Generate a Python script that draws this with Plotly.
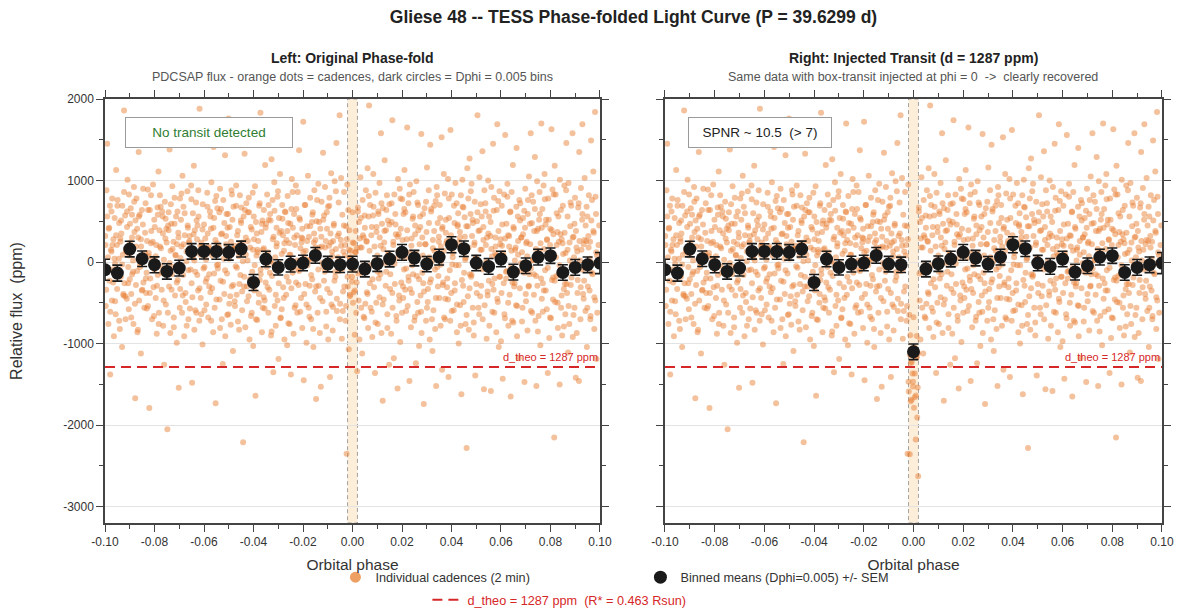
import plotly.graph_objects as go

# ---------------- data ----------------
PERIOD_D = 39.6299
DEPTH_PPM = 1287
RSTAR_RSUN = 0.463
TRANSIT_HALF_WIDTH = 0.002   # phase half-width of injected box transit
SPNR = 10.5

# individual cadences: phase in units of 1e-4, flux in ppm (read approx. from the picture)
PHASE_E4 = [
    -999,-997,-994,-993,-991,-988,-986,-985,-982,-980,-979,-976,-974,-972,-970,-967,-966,-964,-961,-959,
    -957,-955,-952,-951,-949,-946,-944,-943,-940,-938,-936,-934,-931,-930,-928,-925,-923,-921,-919,-917,
    -915,-912,-911,-909,-906,-904,-903,-900,-898,-896,-894,-891,-890,-887,-885,-883,-881,-878,-877,-875,
    -873,-870,-869,-866,-864,-862,-860,-858,-855,-854,-851,-849,-847,-845,-842,-841,-838,-836,-834,-832,
    -830,-827,-826,-823,-821,-819,-817,-814,-813,-810,-808,-806,-804,-801,-800,-797,-795,-793,-791,-788,
    -787,-784,-782,-780,-778,-775,-774,-771,-769,-767,-765,-762,-761,-758,-756,-754,-752,-749,-748,-745,
    -743,-741,-739,-736,-735,-732,-730,-728,-726,-723,-722,-719,-717,-715,-713,-710,-709,-706,-704,-702,
    -700,-697,-696,-693,-691,-689,-687,-684,-683,-680,-678,-676,-674,-671,-670,-667,-665,-663,-661,-658,
    -657,-654,-652,-650,-648,-645,-644,-641,-639,-637,-635,-632,-631,-628,-626,-624,-622,-619,-618,-615,
    -613,-611,-609,-606,-605,-602,-600,-598,-596,-593,-592,-589,-587,-585,-583,-580,-579,-576,-574,-572,
    -570,-567,-566,-563,-561,-559,-557,-554,-553,-550,-548,-546,-544,-541,-540,-537,-535,-533,-531,-528,
    -527,-524,-522,-520,-518,-515,-514,-511,-509,-507,-505,-502,-501,-498,-496,-494,-492,-489,-488,-485,
    -483,-481,-479,-476,-475,-472,-470,-468,-466,-463,-462,-459,-457,-455,-453,-450,-449,-446,-444,-442,
    -440,-437,-436,-433,-431,-429,-427,-424,-423,-420,-418,-416,-414,-411,-410,-407,-405,-403,-401,-398,
    -397,-394,-392,-390,-388,-385,-384,-381,-379,-377,-375,-372,-371,-368,-366,-364,-362,-359,-358,-355,
    -353,-351,-349,-346,-345,-342,-340,-338,-336,-333,-332,-329,-327,-325,-323,-320,-319,-316,-314,-312,
    -310,-307,-306,-303,-301,-299,-297,-294,-293,-290,-288,-286,-284,-281,-280,-277,-275,-273,-271,-268,
    -267,-264,-262,-260,-258,-255,-254,-251,-249,-247,-245,-242,-241,-238,-236,-234,-232,-229,-228,-225,
    -223,-221,-219,-216,-215,-212,-210,-208,-206,-203,-202,-199,-197,-195,-193,-190,-189,-186,-184,-182,
    -180,-177,-176,-173,-171,-169,-167,-164,-163,-160,-158,-156,-154,-151,-150,-147,-145,-143,-141,-138,
    -137,-134,-132,-130,-128,-125,-124,-121,-119,-117,-115,-112,-111,-108,-106,-104,-102,-99,-98,-95,
    -93,-91,-89,-86,-85,-82,-80,-78,-76,-73,-72,-69,-67,-65,-63,-60,-59,-56,-54,-52,
    -50,-47,-46,-43,-41,-39,-37,-34,-33,-30,-28,-26,-24,-21,-20,-17,-15,-13,-11,-8,
    -7,-4,-2,0,2,5,6,9,11,13,15,18,19,22,24,26,28,31,32,35,
    37,39,41,44,45,48,50,52,54,57,58,61,63,65,67,70,71,74,76,78,
    80,83,84,87,89,91,93,96,97,100,102,104,106,109,110,113,115,117,119,122,
    123,126,128,130,132,135,136,139,141,143,145,148,149,152,154,156,158,161,162,165,
    167,169,171,174,175,178,180,182,184,187,188,191,193,195,197,200,201,204,206,208,
    210,213,214,217,219,221,223,226,227,230,232,234,236,239,240,243,245,247,249,252,
    253,256,258,260,262,265,266,269,271,273,275,278,279,282,284,286,288,291,292,295,
    297,299,301,304,305,308,310,312,314,317,318,321,323,325,327,330,331,334,336,338,
    340,343,344,347,349,351,353,356,357,360,362,364,366,369,370,373,375,377,379,382,
    383,386,388,390,392,395,396,399,401,403,405,408,409,412,414,416,418,421,422,425,
    427,429,431,434,435,438,440,442,444,447,448,451,453,455,457,460,461,464,466,468,
    470,473,474,477,479,481,483,486,487,490,492,494,496,499,500,503,505,507,509,512,
    513,516,518,520,522,525,526,529,531,533,535,538,539,542,544,546,548,551,552,555,
    557,559,561,564,565,568,570,572,574,577,578,581,583,585,587,590,591,594,596,598,
    600,603,604,607,609,611,613,616,617,620,622,624,626,629,630,633,635,637,639,642,
    643,646,648,650,652,655,656,659,661,663,665,668,669,672,674,676,678,681,682,685,
    687,689,691,694,695,698,700,702,704,707,708,711,713,715,717,720,721,724,726,728,
    730,733,734,737,739,741,743,746,747,750,752,754,756,759,760,763,765,767,769,772,
    773,776,778,780,782,785,786,789,791,793,795,798,799,802,804,806,808,811,812,815,
    817,819,821,824,825,828,830,832,834,837,838,841,843,845,847,850,851,854,856,858,
    860,863,864,867,869,871,873,876,877,880,882,884,886,889,890,893,895,897,899,902,
    903,906,908,910,912,915,916,919,921,923,925,928,929,932,934,936,938,941,942,945,
    947,949,951,954,955,958,960,962,964,967,968,971,973,975,977,980,981,984,986,988,
    -998,-995,-991,-986,-983,-979,-974,-971,-967,-962,-959,-955,-950,-947,-943,-938,-935,-931,-926,-923,
    -918,-915,-911,-906,-903,-899,-894,-891,-887,-882,-879,-875,-870,-867,-863,-858,-855,-851,-846,-843,
    -838,-835,-831,-826,-823,-819,-814,-811,-807,-802,-799,-795,-790,-787,-783,-778,-775,-771,-766,-763,
    -758,-755,-751,-746,-743,-739,-734,-731,-727,-722,-719,-715,-710,-707,-703,-698,-695,-691,-686,-683,
    -678,-675,-671,-666,-663,-659,-654,-651,-647,-642,-639,-635,-630,-627,-623,-618,-615,-611,-606,-603,
    -598,-595,-591,-586,-583,-579,-574,-571,-567,-562,-559,-555,-550,-547,-543,-538,-535,-531,-526,-523,
    -518,-515,-511,-506,-503,-499,-494,-491,-487,-482,-479,-475,-470,-467,-463,-458,-455,-451,-446,-443,
    -438,-435,-431,-426,-423,-419,-414,-411,-407,-402,-399,-395,-390,-387,-383,-378,-375,-371,-366,-363,
    -358,-355,-351,-346,-343,-339,-334,-331,-327,-322,-319,-315,-310,-307,-303,-298,-295,-291,-286,-283,
    -278,-275,-271,-266,-263,-259,-254,-251,-247,-242,-239,-235,-230,-227,-223,-218,-215,-211,-206,-203,
    -198,-195,-191,-186,-183,-179,-174,-171,-167,-162,-159,-155,-150,-147,-143,-138,-135,-131,-126,-123,
    -118,-115,-111,-106,-103,-99,-94,-91,-87,-82,-79,-75,-70,-67,-63,-58,-55,-51,-46,-43,
    -38,-35,-31,-26,-23,-19,-14,-11,-7,-2,1,5,10,13,17,22,25,29,34,37,
    42,45,49,54,57,61,66,69,73,78,81,85,90,93,97,102,105,109,114,117,
    122,125,129,134,137,141,146,149,153,158,161,165,170,173,177,182,185,189,194,197,
    202,205,209,214,217,221,226,229,233,238,241,245,250,253,257,262,265,269,274,277,
    282,285,289,294,297,301,306,309,313,318,321,325,330,333,337,342,345,349,354,357,
    362,365,369,374,377,381,386,389,393,398,401,405,410,413,417,422,425,429,434,437,
    442,445,449,454,457,461,466,469,473,478,481,485,490,493,497,502,505,509,514,517,
    522,525,529,534,537,541,546,549,553,558,561,565,570,573,577,582,585,589,594,597,
    602,605,609,614,617,621,626,629,633,638,641,645,650,653,657,662,665,669,674,677,
    682,685,689,694,697,701,706,709,713,718,721,725,730,733,737,742,745,749,754,757,
    762,765,769,774,777,781,786,789,793,798,801,805,810,813,817,822,825,829,834,837,
    842,845,849,854,857,861,866,869,873,878,881,885,890,893,897,902,905,909,914,917,
    922,925,929,934,937,941,946,949,953,958,961,965,970,973,977,982,985,989,994,997,
]

FLUX_PPM = [
    320,-540,880,-120,1450,60,-760,410,-230,690,-1380,150,620,-470,210,-90,280,-910,540,-20,
    -640,1130,210,-330,760,-120,40,480,-820,290,-180,350,-1040,690,90,-410,1860,-260,570,-700,
    130,-450,430,1010,-60,-580,830,-210,240,660,-390,580,-150,20,-760,920,370,-1670,510,-280,
    780,-110,-860,300,1350,-470,580,-30,-1120,190,640,-340,460,-250,1690,-560,110,720,-380,-130,
    260,890,-540,70,-1790,640,-200,230,380,-700,40,950,-310,520,-90,1470,-440,210,-880,670,
    -160,1110,-620,390,820,-50,170,-340,620,560,-780,30,-1260,740,290,-520,410,-130,-2050,450,
    610,-300,1380,-870,140,470,-150,930,-60,250,-680,790,-410,80,560,-990,220,-220,360,-1540,
    -30,780,-330,520,190,-620,1060,-160,680,-910,330,1540,-490,10,-780,870,420,-100,240,320,
    -570,150,940,-260,-1480,600,50,1180,-830,390,-120,730,-620,280,450,-350,560,-720,1880,90,
    -440,240,200,-1010,710,-80,460,-590,1530,-240,30,-200,850,350,-680,190,-150,620,-370,410,
    980,-320,120,-860,1410,540,-560,270,-1730,810,-40,660,-80,170,190,-460,900,-230,650,-700,
    350,-1250,760,40,-390,1310,-910,220,590,-140,420,-640,1760,-510,430,100,-770,880,-300,520,
    -1090,680,160,-480,200,-50,940,-400,330,-730,1460,70,-270,820,-160,480,670,-590,240,-2210,
    560,-180,1330,-800,300,720,-300,20,610,-420,610,-950,180,1590,-660,400,-120,850,-1030,280,
    -350,930,-1640,490,80,-710,150,260,-500,690,-220,1830,-90,370,-860,510,150,-430,640,-470,
    1190,-250,470,-60,830,120,-620,520,-340,590,10,-900,1260,-170,760,-1350,310,980,-540,60,
    -780,420,230,-470,870,-1190,540,-20,1080,-680,380,-580,700,330,-310,140,-950,620,1700,-400,
    270,-1020,810,480,-240,230,-760,90,-1380,650,1020,-130,420,-880,590,-560,210,940,-250,330,
    -620,860,-90,1370,-110,520,170,-440,300,-810,290,1720,-1450,60,700,-270,140,-990,440,-40,
    1060,-560,310,-290,790,30,-700,490,-210,610,-1040,240,880,-360,270,-1680,500,120,-620,960,
    -290,180,-870,410,-1530,740,190,-480,1340,-60,570,-120,920,260,-790,610,-330,680,-950,200,
    790,-1410,350,1090,-520,70,-840,260,450,-230,990,-180,160,1460,-600,320,-10,730,-110,1800,
    -510,270,1030,-940,580,-600,130,860,-300,210,-720,440,-2350,950,-180,640,-1070,390,50,-400,
    140,-80,-240,610,-500,-370,230,-890,120,380,-620,170,-1340,670,-140,490,-950,180,1040,-560,
    180,-1120,760,-40,300,-690,420,-510,880,250,-370,1150,-810,560,1920,-260,700,-40,330,-610,
    -920,570,1080,-310,190,-1360,850,-500,430,80,-760,620,-200,970,300,-150,1580,-870,470,-1700,
    660,-460,240,1250,-10,390,-120,820,-640,510,110,-1260,710,-330,60,-880,490,1740,-560,210,
    -1180,830,-270,460,340,-720,50,-1550,1020,340,-410,900,-980,410,160,-620,770,-300,590,-90,
    1130,-340,610,-80,280,1650,-540,720,-230,-1460,950,120,-800,290,-380,530,-150,860,40,-670,
    450,-1240,990,-170,730,-620,390,-1030,220,560,-410,1570,-870,300,80,-260,-1740,660,-30,220,
    -720,370,1160,-490,-330,880,60,-950,1440,-210,620,10,-1090,270,-590,690,140,-820,750,-1520,
    920,-60,480,-170,310,-440,700,-780,190,1530,-1320,430,-250,1080,-680,840,-450,360,230,-310,
    -200,1020,-1410,540,260,-720,1620,-380,830,-30,110,190,-590,480,-260,970,-40,720,-860,440,
    600,-1000,250,370,-530,820,-1620,140,1010,-290,670,-130,550,30,-760,440,-2280,1150,-420,780,
    -830,1270,-150,590,-180,960,320,-560,480,-900,210,740,-1390,60,-270,500,1800,-50,380,-640,
    1040,-420,710,-290,150,1360,-700,430,-1560,880,-60,620,210,-940,300,-360,1000,-230,560,-90,
    320,-1580,920,70,-610,1450,-340,790,-200,110,190,-860,640,1690,-490,380,-1040,870,-180,280,
    -970,690,200,-1430,80,-260,830,-690,1560,-120,470,-110,960,330,-780,320,-400,610,-1650,140,
    860,-250,1190,-740,410,-260,20,180,-530,1400,-910,560,90,-1180,760,-320,720,-10,300,120,
    -560,340,-80,630,-1470,900,-390,230,250,-840,590,-300,1050,-150,470,1580,-80,820,-620,20,
    740,-150,380,1290,-720,160,-1520,990,-290,410,-660,520,860,-1020,230,1700,-450,650,-260,940,
    -350,1080,-100,460,520,-580,270,-1360,780,60,-930,210,410,-690,1630,-220,890,-190,340,-2150,
    1180,-490,830,-170,210,370,-810,560,-150,-1500,1010,340,-560,280,-900,690,100,-330,940,-270,
    -640,880,1460,-380,150,-1110,970,-760,240,440,-280,690,-40,1580,-920,310,60,-560,790,-1420,
    380,-870,130,-220,670,-1460,1350,20,-700,910,-90,520,1690,-390,220,-230,1030,-600,450,260,
    -1040,560,-300,180,820,-350,250,-660,1490,-130,760,-20,1110,360,-820,1840,-470,590,-1190,80,
    210,-340,560,-90,420,-610,130,780,-250,40,-480,330,690,-170,-720,250,510,-30,-390,860,
    -420,150,620,-260,80,470,-680,300,-120,740,-510,190,410,-830,560,-60,280,-350,900,20,
    360,-200,-570,640,110,-380,820,-40,250,-660,430,70,-290,580,-760,190,680,-130,350,-470,
    -150,530,240,-620,390,-10,710,-340,160,-800,470,90,-250,620,300,-560,50,840,-410,220,
    600,-380,130,450,-700,260,-90,770,-430,340,20,-590,510,-160,880,-320,200,-640,400,120,
    -60,290,-520,680,170,-300,560,-720,80,420,-140,750,-460,230,-30,610,-810,340,140,-240,
    480,-100,320,-650,590,40,-420,250,830,-280,160,-540,690,-70,380,-830,220,510,-360,10,
    -300,640,90,-480,260,790,-210,430,-620,150,560,-40,-700,350,120,-390,720,-150,470,-560,
    170,-570,420,60,-310,700,-130,510,-850,280,-20,630,-400,190,800,-260,360,-690,100,530,
    -440,230,610,-180,380,-750,90,470,-320,860,-60,300,-530,650,20,-280,540,-610,240,410,
    120,-390,700,-520,260,30,-670,440,-160,580,-820,350,180,-300,760,-90,490,-440,310,-10,
    520,-230,180,-610,410,-20,690,-380,240,130,-550,470,-120,870,-450,60,350,-700,200,-90,
    -360,450,80,-540,280,-300,150,-420,60,-180,240,-80,-350,120,-250,620,-470,290,540,-130,
    330,-670,570,-50,260,-390,810,140,-560,430,-210,680,20,-740,370,-120,590,-430,200,720,
    -520,160,380,-290,640,-810,90,460,-150,720,-380,250,-20,590,-660,310,130,-470,780,-250,
    270,-440,650,50,-600,390,-180,830,-330,200,-40,560,-720,340,110,-490,700,-210,430,-610,
    -130,590,-360,220,740,-560,30,480,-250,650,-700,170,380,-90,-440,820,-300,250,540,-30,
    410,-280,140,-700,520,260,-460,780,-100,330,-600,60,690,-350,200,-520,460,-40,300,-780,
    -220,680,-490,310,50,-650,440,180,-320,870,-160,520,-740,240,40,-380,610,-560,390,150,
    560,-90,270,-530,720,10,-410,350,-780,490,160,-270,630,-620,300,80,-450,750,-180,220,
    -380,460,110,-640,290,-200,800,-500,190,620,-60,-720,430,-300,150,680,-540,260,-110,510,
    300,-730,540,-130,420,-480,70,760,-290,220,-600,480,30,-400,650,-170,380,-850,140,590,
    -200,420,-610,160,770,-350,280,-70,520,-680,100,390,-460,830,-230,60,600,-500,250,-40,
    640,-410,230,-790,360,110,-270,560,-540,20,730,-190,300,-650,470,-60,180,-380,720,260,
    -310,150,590,-450,270,-80,680,-560,320,40,-700,510,-150,380,-430,800,120,-620,210,450,
]

# binned means (Dphi = 0.005)
BIN_PHASE = [-0.100,-0.095,-0.090,-0.085,-0.080,-0.075,-0.070,-0.065,-0.060,-0.055,
             -0.050,-0.045,-0.040,-0.035,-0.030,-0.025,-0.020,-0.015,-0.010,-0.005,
             0.000,0.005,0.010,0.015,0.020,0.025,0.030,0.035,0.040,0.045,
             0.050,0.055,0.060,0.065,0.070,0.075,0.080,0.085,0.090,0.095,0.100]
BIN_LEFT = [-94,-135,160,41,-33,-115,-74,131,131,131,
            119,160,-250,37,-65,-25,-12,82,-25,-33,
            -25,-86,-20,37,119,49,-25,61,213,164,
            -12,-53,37,-123,-45,61,78,-127,-65,-33,-12]
BIN_RIGHT = [-94,-135,160,41,-33,-115,-74,131,131,131,
             119,160,-250,37,-65,-25,-12,82,-25,-33,
             -1100,-86,-20,37,119,49,-25,61,213,164,
             -12,-53,37,-123,-45,61,78,-127,-65,-33,-12]
BIN_SEM = [128,98,96,95,97,94,96,95,93,96,
           95,97,98,95,94,96,95,97,95,94,
           96,95,94,96,97,95,93,96,98,95,
           94,96,95,97,95,96,94,95,97,96,130]

X_TICKVALS = [-0.10,-0.08,-0.06,-0.04,-0.02,0.00,0.02,0.04,0.06,0.08,0.10]
X_TICKTEXT = ["-0.10","-0.08","-0.06","-0.04","-0.02","0.00","0.02","0.04","0.06","0.08","0.10"]
Y_TICKVALS = [2000,1000,0,-1000,-2000,-3000]
Y_TICKTEXT = ["2000","1000","0","-1000","-2000","-3000"]

# ---------------- derived ----------------
n = min(len(PHASE_E4), len(FLUX_PPM))
phase = [p * 1e-4 for p in PHASE_E4[:n]]
flux_left = list(FLUX_PPM[:n])
flux_right = [f - DEPTH_PPM if abs(p) <= TRANSIT_HALF_WIDTH else f for p, f in zip(phase, flux_left)]

FONT = "Liberation Sans, Arial, Helvetica, sans-serif"
ORANGE = "rgba(232,125,50,0.48)"
DARK = "#1a1a1a"
RED = "#d62728"

fig = go.Figure()

for col, fl in ((1, flux_left), (2, flux_right)):
    xa = "x" if col == 1 else "x2"
    ya = "y" if col == 1 else "y2"
    fig.add_trace(go.Scatter(
        x=phase, y=fl, mode="markers", xaxis=xa, yaxis=ya,
        marker=dict(size=6, color=ORANGE, line=dict(width=0)),
        name="Individual cadences (2 min)", showlegend=False, hoverinfo="skip"))

# legend swatch for the cadences (no data of its own)
fig.add_trace(go.Scatter(
    x=[None], y=[None], mode="markers", xaxis="x", yaxis="y",
    marker=dict(size=11, color="rgb(238,160,100)"),
    name="Individual cadences (2 min)", showlegend=True, legend="legend"))

for col in (1, 2):
    xa = "x" if col == 1 else "x2"
    ya = "y" if col == 1 else "y2"
    fig.add_trace(go.Scatter(
        x=[BIN_PHASE[0], BIN_PHASE[-1]], y=[-DEPTH_PPM, -DEPTH_PPM], mode="lines",
        xaxis=xa, yaxis=ya, line=dict(color=RED, width=2, dash="10px,6px"),
        name=f"d_theo = {DEPTH_PPM} ppm  (R* = {RSTAR_RSUN} Rsun)",
        showlegend=(col == 1), legend="legend2", hoverinfo="skip"))

for col, bins in ((1, BIN_LEFT), (2, BIN_RIGHT)):
    xa = "x" if col == 1 else "x2"
    ya = "y" if col == 1 else "y2"
    fig.add_trace(go.Scatter(
        x=BIN_PHASE, y=bins, mode="markers", xaxis=xa, yaxis=ya,
        marker=dict(size=13, color=DARK, line=dict(width=0)),
        error_y=dict(type="data", array=BIN_SEM, visible=True, color=DARK, thickness=1.6, width=5),
        name="Binned means (Dphi=0.005) +/- SEM", showlegend=(col == 1), legend="legend"))

axis_common = dict(
    showline=True, linecolor="#444", linewidth=1.5, mirror="ticks",
    ticks="outside", ticklen=7, tickwidth=1, tickcolor="#444",
    tickfont=dict(size=12, color="#333", family=FONT), zeroline=False,
)

xaxis_base = dict(axis_common, range=[-0.1, 0.1], tickmode="array",
                  tickvals=X_TICKVALS, ticktext=X_TICKTEXT, showgrid=False,
                  minor=dict(dtick=0.01, tick0=0, ticks="outside", ticklen=4, tickcolor="#444", showgrid=False),
                  title=dict(text="Orbital phase", font=dict(size=15.5, color="#333", family=FONT), standoff=11))
yaxis_base = dict(axis_common, range=[-3200, 2000], tickmode="array",
                  tickvals=Y_TICKVALS, ticktext=Y_TICKTEXT, showgrid=True, gridcolor="#e3e3e3", gridwidth=1,
                  minor=dict(dtick=500, tick0=0, ticks="outside", ticklen=4, tickcolor="#444", showgrid=False))

fig.update_layout(
    width=1178, height=608,
    paper_bgcolor="white", plot_bgcolor="white",
    font=dict(family=FONT, color="#333", size=12),
    margin=dict(l=105, r=16, t=99, b=85, autoexpand=False),
    xaxis=dict(xaxis_base, domain=[0, 0.4683], anchor="y"),
    xaxis2=dict(xaxis_base, domain=[0.5298, 1], anchor="y2"),
    yaxis=dict(yaxis_base, anchor="x",
               title=dict(text="Relative flux  (ppm)", font=dict(size=16, color="#333", family=FONT), standoff=37)),
    yaxis2=dict(yaxis_base, anchor="x2", showticklabels=False),
    title=dict(text=f"<b>Gliese 48 -- TESS Phase-folded Light Curve (P = {PERIOD_D} d)</b>",
               x=0.5, xref="paper", xanchor="center", y=1 - 17 / 608, yanchor="middle",
               font=dict(size=17.5, color="#222", family=FONT)),
    legend=dict(orientation="h", x=0.218, xanchor="left", y=-0.093, yanchor="top",
                entrywidth=260, font=dict(size=12.7, color="#333", family=FONT), bgcolor="rgba(0,0,0,0)"),
    legend2=dict(orientation="h", x=0.305, xanchor="left", y=-0.146, yanchor="top",
                 font=dict(size=12.7, color=RED, family=FONT), bgcolor="rgba(0,0,0,0)"),
)

# transit window band
for xr, yr in (("x", "y"), ("x2", "y2")):
    fig.add_shape(type="rect", xref=xr, yref=f"{yr} domain",
                  x0=-TRANSIT_HALF_WIDTH, x1=TRANSIT_HALF_WIDTH, y0=0, y1=1,
                  fillcolor="rgba(250,205,150,0.35)", line=dict(color="rgba(140,140,140,0.8)", width=1, dash="4px,3px"),
                  layer="below")

ann = []
# subplot titles
for xr, t, s in (("x domain", "Left: Original Phase-fold",
                  "PDCSAP flux - orange dots = cadences, dark circles = Dphi = 0.005 bins"),
                 ("x2 domain", f"Right: Injected Transit (d = {DEPTH_PPM} ppm)",
                  "Same data with box-transit injected at phi = 0  ->  clearly recovered")):
    ann.append(dict(text=f"<b>{t}</b>", xref=xr, yref="paper", x=0.5, y=(523 - 58) / 424,
                    xanchor="center", yanchor="middle", showarrow=False,
                    font=dict(size=14, color="#222", family=FONT)))
    ann.append(dict(text=s, xref=xr, yref="paper", x=0.5, y=(523 - 77) / 424,
                    xanchor="center", yanchor="middle", showarrow=False,
                    font=dict(size=12.5, color="#555", family=FONT)))

# info boxes
ann.append(dict(text="No transit detected", xref="x domain", yref="y domain", x=0.0404, y=0.9575,
                xanchor="left", yanchor="top", showarrow=False, width=158, height=21, align="center",
                font=dict(size=13.5, color="#2e7d32", family=FONT), bgcolor="white",
                bordercolor="#9a9a9a", borderwidth=1, borderpad=4))
ann.append(dict(text=f"SPNR ~ {SPNR}  (> 7)", xref="x2 domain", yref="y2 domain", x=0.0463, y=0.9575,
                xanchor="left", yanchor="top", showarrow=False, width=134, height=21, align="center",
                font=dict(size=13.5, color="#222", family=FONT), bgcolor="white",
                bordercolor="#9a9a9a", borderwidth=1, borderpad=4))

# d_theo labels
for xr, yr in (("x domain", "y"), ("x2 domain", "y2")):
    ann.append(dict(text=f"d_theo = {DEPTH_PPM} ppm", xref=xr, yref=yr, x=1, y=-DEPTH_PPM,
                    xanchor="right", yanchor="bottom", yshift=2, showarrow=False,
                    font=dict(size=11, color=RED, family=FONT)))

fig.update_layout(annotations=ann)

fig.write_html("out.html", config={"displayModeBar": False},
               post_script="document.body.style.margin='0';")
